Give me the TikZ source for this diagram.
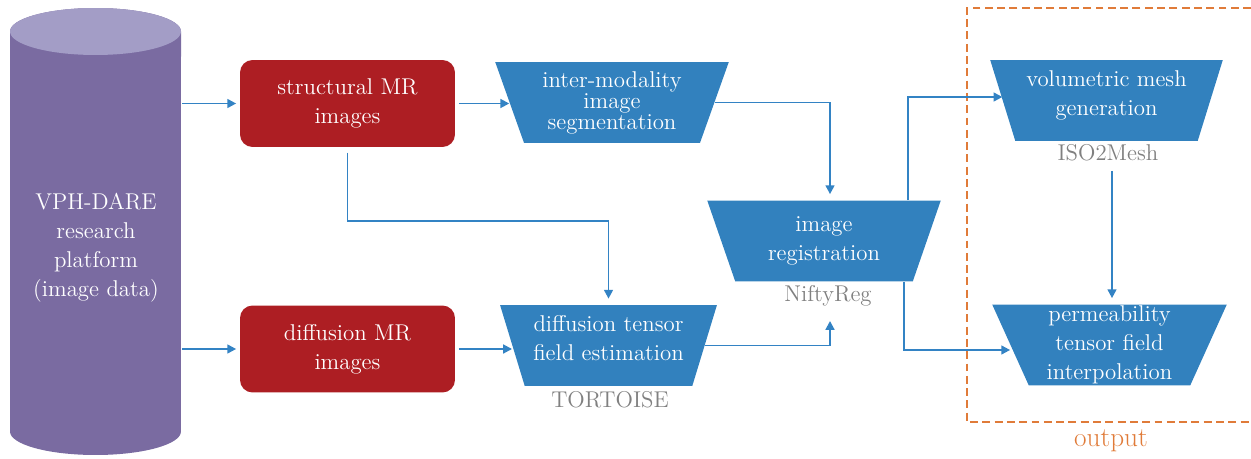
\documentclass[tikz,border=0pt]{standalone}
\usepackage{fontspec}
\usetikzlibrary{positioning,shapes.geometric,arrows.meta}
\definecolor{cylbody}{HTML}{7A6BA1}
\definecolor{cyltop}{HTML}{A39DC6}
\definecolor{mrred}{HTML}{AD1E23}
\definecolor{stepblue}{HTML}{3281BE}
\definecolor{arrblue}{HTML}{3383C4}
\definecolor{toolgrey}{HTML}{808080}
\definecolor{outorange}{HTML}{E07B39}
\tikzset{
  mrbox/.style={draw=none, fill=mrred, rounded corners=0.25cm, text=white,
    minimum width=4.3cm, minimum height=1.74cm, align=center,
    font=\fontsize{13}{16.5}\selectfont},
  stepbox/.style={trapezium, trapezium angle=70, trapezium stretches=true,
    shape border rotate=180, fill=stepblue, text=white, inner sep=0pt,
    minimum height=1.62cm, align=center, font=\fontsize{13}{16.5}\selectfont},
  toollabel/.style={text=toolgrey, inner sep=1pt, font=\fontsize{13}{16}\selectfont},
  arr/.style={draw=arrblue, line width=1.1pt, -{Triangle[length=5pt,width=5pt]}},
}
\begin{document}
\begin{tikzpicture}
   [x=0.02cm,y=-0.02cm,every node/.style={inner sep=0pt}]
\useasboundingbox (0,0) rectangle (1251,459);

%%%%%%%%%%%%%%%%%%%%%%%%%%%%%%%%%%%%%%%%%%%%%%%%%%%%%%%%%%%%%%%
% Data platform (cylinder)
%%%%%%%%%%%%%%%%%%%%%%%%%%%%%%%%%%%%%%%%%%%%%%%%%%%%%%%%%%%%%%%
\fill[cylbody] (10,31.5) -- (10,431.5)
   arc[start angle=180, end angle=360, x radius=1.71cm, y radius=0.47cm]
   -- (181,31.5)
   arc[start angle=0, end angle=180, x radius=1.71cm, y radius=0.47cm] -- cycle;
\fill[cyltop] (95.5,31.5) ellipse [x radius=1.71cm, y radius=0.47cm];
\node[text=white, align=center, font=\fontsize{13}{16.5}\selectfont] (vph) at (96,248)
   {VPH-DARE\\research\\platform\\(image data)};
\coordinate (cylR) at (182,0);

%%%%%%%%%%%%%%%%%%%%%%%%%%%%%%%%%%%%%%%%%%%%%%%%%%%%%%%%%%%%%%%
% MR images
%%%%%%%%%%%%%%%%%%%%%%%%%%%%%%%%%%%%%%%%%%%%%%%%%%%%%%%%%%%%%%%
\node[mrbox] (struct) at (347.5,103.5) {structural MR\\images};
\node[mrbox] (diff) at (347.5,349) {diffusion MR\\images};

%%%%%%%%%%%%%%%%%%%%%%%%%%%%%%%%%%%%%%%%%%%%%%%%%%%%%%%%%%%%%%%
% Processing steps
%%%%%%%%%%%%%%%%%%%%%%%%%%%%%%%%%%%%%%%%%%%%%%%%%%%%%%%%%%%%%%%
\node[stepbox, minimum width=4.68cm, font=\fontsize{13}{12}\selectfont] (seg) at (612,102.5)
   {inter-modality\\image\\segmentation};
\node[stepbox, minimum width=4.34cm, text depth=9pt] (dti) at (608.5,345.5)
   {diffusion tensor\\field estimation};
\node[stepbox, minimum width=4.68cm] (reg) at (824,241)
   {image\\registration};
\node[stepbox, minimum width=4.66cm, text depth=9pt] (mesh) at (1106.5,100.5)
   {volumetric mesh\\generation};
\node[stepbox, minimum width=4.7cm] (perm) at (1109.5,345)
   {permeability\\tensor field\\interpolation};

% Tools
\node[toollabel] (tortoise) at (610,400) {TORTOISE};
\node[toollabel] (nifty) at (828,296) {NiftyReg};
\node[toollabel] (iso) at (1108,153) {ISO2Mesh};

% Output region
\draw[outorange, line width=1.3pt, dash pattern=on 4.5pt off 2.5pt]
   (1251,8) -- (967,8) -- (967,422) -- (1251,422);
\node[text=outorange, font=\fontsize{15.5}{18}\selectfont] (out) at (1111,441) {output};

%%%%%%%%%%%%%%%%%%%%%%%%%%%%%%%%%%%%%%%%%%%%%%%%%%%%%%%%%%%%%%%
% Connecting nodes
%%%%%%%%%%%%%%%%%%%%%%%%%%%%%%%%%%%%%%%%%%%%%%%%%%%%%%%%%%%%%%%
\coordinate (split) at (0,221);
\draw[arr, shorten >=2pt] (cylR |- struct.west) -- (struct.west);
\draw[arr, shorten >=2pt] (cylR |- diff.west) -- (diff.west);
\draw[arr, shorten <=2pt] (struct.east) -- (struct.east -| seg.west);
\draw[arr, shorten <=2pt] (diff.east) -- (diff.east -| dti.west);
\draw[arr, shorten >=0.12cm] (seg.east) -| ([xshift=0.12cm]reg.north);
\draw[arr, shorten <=3pt, shorten >=0.12cm] (struct.south) |- (split -| dti.north) -- (dti.north);
\draw[arr, shorten >=0.25cm] (dti.east) -| ([xshift=0.04cm]nifty.south);
\draw[arr] ([xshift=1.68cm]reg.north) |- ([yshift=0.07cm]mesh.west);
\draw[arr] ([xshift=1.6cm]reg.south) |- ([yshift=-0.1cm]perm.west);
\draw[arr, shorten <=0.15cm, shorten >=0.12cm] ([xshift=0.08cm]iso.south) -- ([xshift=0.08cm]iso.south |- perm.north);

\end{tikzpicture}
\end{document}
